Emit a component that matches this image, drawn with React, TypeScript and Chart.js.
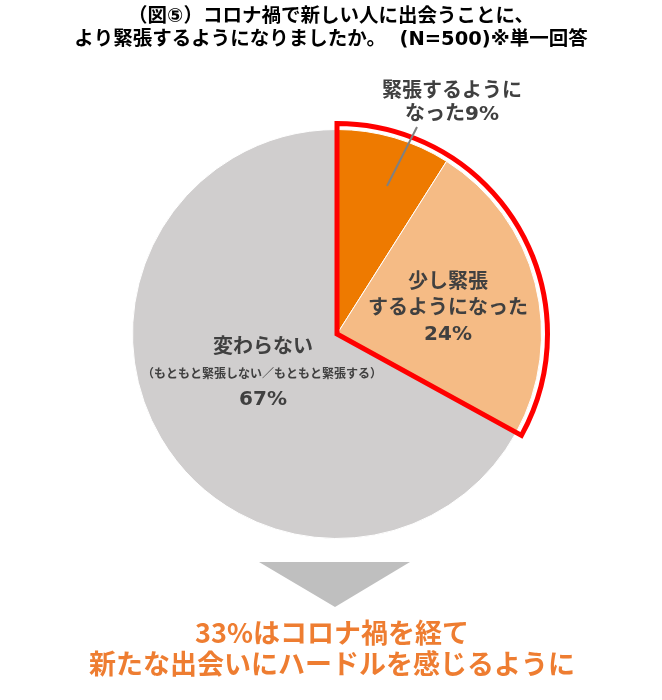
import React, { useEffect, useRef } from "react";
import { Chart, registerables } from "chart.js";

Chart.register(...registerables);

const categories = ["緊張するようになった", "少し緊張するようになった", "変わらない"];
const values = [9, 24, 67];
const sliceColors = ["#EE7A00", "#F5BB85", "#D0CECE"];
const titleLines = ["（図⑤）コロナ禍で新しい人に出会うことに、", "より緊張するようになりましたか。  (N=500)※単一回答"];
const labelOrange = ["緊張するように", "なった9%"];
const labelPeach = ["少し緊張", "するようになった", "24%"];
const labelGrayMain = "変わらない";
const labelGraySub = "（もともと緊張しない／もともと緊張する）";
const labelGrayPct = "67%";
const conclusionLines = ["33%はコロナ禍を経て", "新たな出会いにハードルを感じるように"];

const FONT = "'Noto Sans CJK JP', 'Noto Sans', sans-serif";
const MIXFONT = "'DejaVu Sans', 'Noto Sans CJK JP', sans-serif";

const overlayPlugin = {
  id: "overlay",
  afterDatasetsDraw(chart: any) {
    const ctx = chart.ctx as CanvasRenderingContext2D;
    const meta = chart.getDatasetMeta(0);
    const a0 = meta.data[0] as any;
    const a1 = meta.data[1] as any;
    const cx = a0.x;
    const cy = a0.y;
    const r = a0.outerRadius;

    // red outline around slices 0 and 1
    ctx.save();
    const ro = r + 6;
    ctx.beginPath();
    ctx.moveTo(cx, cy);
    ctx.lineTo(cx + ro * Math.cos(a0.startAngle), cy + ro * Math.sin(a0.startAngle));
    ctx.arc(cx, cy, ro, a0.startAngle, a1.endAngle);
    ctx.closePath();
    ctx.strokeStyle = "#FF0000";
    ctx.lineWidth = 5;
    ctx.lineJoin = "miter";
    ctx.stroke();
    ctx.restore();

    // leader line
    ctx.save();
    ctx.beginPath();
    ctx.moveTo(cx + 80, cy - 207);
    ctx.lineTo(cx + 50, cy - 148);
    ctx.strokeStyle = "#808080";
    ctx.lineWidth = 2;
    ctx.stroke();
    ctx.restore();

    ctx.save();
    ctx.fillStyle = "#404040";
    ctx.textAlign = "center";
    ctx.textBaseline = "middle";
    ctx.font = `bold 20px ${MIXFONT}`;
    labelOrange.forEach((t, i) => ctx.fillText(t, cx + 115, cy - 242 + i * 23));
    labelPeach.forEach((t, i) => ctx.fillText(t, cx + 111, cy - 51 + i * 26));
    ctx.fillText(labelGrayMain, cx - 74, cy + 14);
    ctx.fillText(labelGrayPct, cx - 74, cy + 66);
    ctx.font = `bold 12px ${FONT}`;
    ctx.fillText(labelGraySub, cx - 75, cy + 39);
    ctx.restore();
  },
  afterDraw(chart: any) {
    const ctx = chart.ctx as CanvasRenderingContext2D;
    const w = chart.width;
    ctx.save();
    ctx.textAlign = "center";
    ctx.textBaseline = "middle";
    ctx.fillStyle = "#000000";
    ctx.font = `bold 19.5px ${MIXFONT}`;
    titleLines.forEach((t, i) => ctx.fillText(t, w / 2, 17 + i * 23));

    // arrow
    ctx.beginPath();
    ctx.moveTo(259, 562);
    ctx.lineTo(410, 562);
    ctx.lineTo(335, 607);
    ctx.closePath();
    ctx.fillStyle = "#BFBFBF";
    ctx.fill();

    ctx.fillStyle = "#EE7D31";
    ctx.font = `bold 27px ${FONT}`;
    conclusionLines.forEach((t, i) => ctx.fillText(t, w / 2 + 1, 633 + i * 31));
    ctx.restore();
  },
};

export default function App() {
  const ref = useRef<HTMLCanvasElement>(null);
  useEffect(() => {
    if (!ref.current) return;
    const chart = new Chart(ref.current, {
      type: "pie",
      data: {
        labels: categories,
        datasets: [
          {
            data: values,
            backgroundColor: sliceColors,
            borderColor: "#FFFFFF",
            borderWidth: 1,
          },
        ],
      },
      options: {
        responsive: false,
        animation: false,
        devicePixelRatio: 1,
        layout: { padding: { left: 132, right: 120, top: 129, bottom: 161 } },
        plugins: {
          legend: { display: false },
          title: { display: false },
          tooltip: { enabled: false },
        },
      },
      plugins: [overlayPlugin],
    });
    return () => chart.destroy();
  }, []);
  return (
    <div style={{ position: "absolute", left: 0, top: 0, width: 662, height: 700, background: "#fff" }}>
      <canvas ref={ref} width={662} height={700} />
    </div>
  );
}
